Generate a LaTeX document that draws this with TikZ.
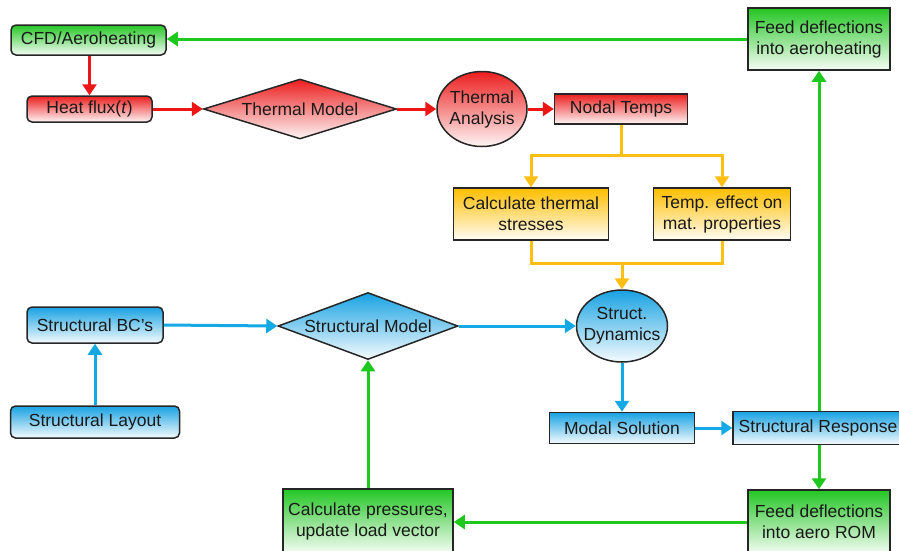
\documentclass[tikz,border=0pt]{standalone}
\usepackage{fontspec}
\setmainfont{Liberation Sans}
\usetikzlibrary{shapes.geometric,arrows.meta}

% line colours
\definecolor{redline}{RGB}{236,22,22}
\definecolor{greenline}{RGB}{30,200,30}
\definecolor{blueline}{RGB}{20,168,228}
\definecolor{orangeline}{RGB}{255,190,20}
% fill colours (top of the gradient)
\definecolor{redtop}{RGB}{236,30,30}
\definecolor{greentop}{RGB}{36,198,36}
\definecolor{bluetop}{RGB}{24,162,226}
\definecolor{orangetop}{RGB}{255,190,0}

\tikzset{
  base/.style={draw=black!85, line width=1.5pt, text=black!90, align=center, inner sep=0pt},
  rbox/.style={base, rectangle, rounded corners=5pt},
  sbox/.style={base, rectangle},
  dia/.style={base, diamond, aspect=3},
  oval/.style={base, ellipse, inner xsep=-8pt, inner ysep=0pt},
  redfill/.style={top color=redtop, middle color=redtop!60, bottom color=redtop!4},
  greenfill/.style={top color=greentop, middle color=greentop!60, bottom color=greentop!4},
  bluefill/.style={top color=bluetop, middle color=bluetop!60, bottom color=bluetop!4},
  orangefill/.style={top color=orangetop, middle color=orangetop!60, bottom color=orangetop!4},
  link/.style={line width=3pt, -{Triangle[length=11pt,width=14pt]}},
  plainlink/.style={line width=3pt},
}

\begin{document}
\begin{tikzpicture}[x=1pt, y=-1pt, font=\fontsize{17.5}{21}\selectfont]
\useasboundingbox (0,0) rectangle (899,550);
\clip (0,0) rectangle (899,550);

% thermal chain
\node[rbox, greenfill, minimum width=155pt, minimum height=30pt] (cfd) at (88.5,40) {CFD/Aeroheating};
\node[rbox, redfill, minimum width=125pt, minimum height=26pt] (heat) at (89.5,109) {Heat flux(\textit{t})};
\node[dia, redfill, minimum width=193pt, minimum height=60pt] (tm) at (300,109) {Thermal Model};
\node[oval, redfill, minimum width=90pt, minimum height=75pt] (ta) at (482,109) {Thermal\\Analysis};
\node[sbox, redfill, minimum width=133pt, minimum height=30pt] (nodal) at (621,109) {Nodal Temps};
\node[sbox, orangefill, minimum width=155pt, minimum height=52pt] (calcT) at (531,214) {Calculate thermal\\stresses};
\node[sbox, orangefill, minimum width=137pt, minimum height=52pt] (tempE) at (722,214) {Temp. effect on\\mat. properties};
\node[sbox, greenfill, minimum width=142pt, minimum height=62pt] (feedA) at (819,39) {Feed deflections\\into aeroheating};

% structural chain
\node[rbox, bluefill, minimum width=136pt, minimum height=36pt] (bcs) at (95,325) {Structural BC’s};
\node[rbox, bluefill, minimum width=169pt, minimum height=32pt] (layout) at (95,422) {Structural Layout};
\node[dia, bluefill, minimum width=180pt, minimum height=67pt] (sm) at (368,326) {Structural Model};
\node[oval, bluefill, minimum width=91pt, minimum height=72pt] (sd) at (622,326) {Struct.\\Dynamics};
\node[sbox, bluefill, minimum width=145pt, minimum height=31pt] (modal) at (622,428) {Modal Solution};
\node[sbox, bluefill, minimum width=170pt, minimum height=33pt] (resp) at (818,428) {Structural Response};
\node[sbox, greenfill, minimum width=142pt, minimum height=64pt] (feedR) at (819,522) {Feed deflections\\into aero ROM};
\node[sbox, greenfill, minimum width=170pt, minimum height=64pt] (calcP) at (368,521) {Calculate pressures,\\update load vector};

% red connectors
\draw[link, redline] (heat.north |- cfd.south) -- (heat.north);
\draw[link, redline] (heat.east) -- (tm.west);
\draw[link, redline] (tm.east) -- (ta.west);
\draw[link, redline] (ta.east) -- (nodal.west);

% orange split and merge
\coordinate (osplit) at (621,155);
\coordinate (ojoin) at (622,263);
\draw[plainlink, orangeline] (nodal.south) -- (osplit);
\draw[link, orangeline] (osplit) -| (calcT.north);
\draw[link, orangeline] (osplit) -| (tempE.north);
\draw[plainlink, orangeline] (calcT.south) |- (ojoin);
\draw[plainlink, orangeline] (tempE.south) |- (ojoin);
\draw[link, orangeline] (ojoin) -- (sd.north);

% blue connectors
\draw[link, blueline] (layout.north) -- (bcs.south);
\draw[link, blueline] (bcs.east) -- (sm.west);
\draw[link, blueline] (sm.east) -- (sd.west);
\draw[link, blueline] (sd.south) -- (modal.north);
\draw[link, blueline] (modal.east) -- (resp.west);

% green feedback loops
\draw[link, greenline] (feedA.south |- resp.north) -- (feedA.south);
\draw[link, greenline] (feedA.west) -- (cfd.east |- feedA.west);
\draw[link, greenline] (feedR.north |- resp.south) -- (feedR.north);
\draw[link, greenline] (feedR.west) -- (calcP.east |- feedR.west);
\draw[link, greenline] (calcP.north) -- (sm.south);
\end{tikzpicture}
\end{document}
